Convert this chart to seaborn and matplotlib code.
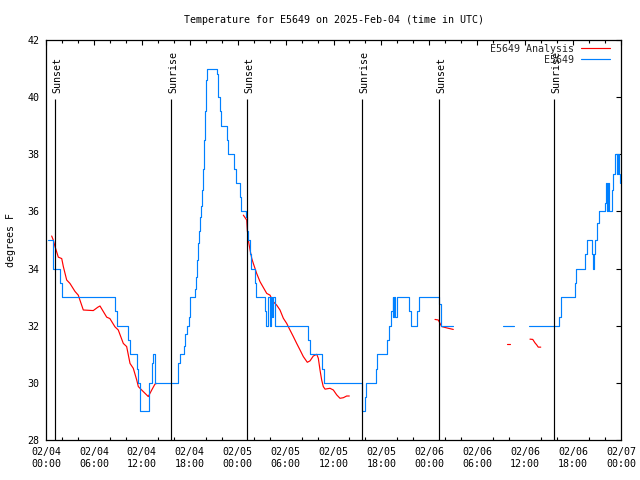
import matplotlib
matplotlib.use("Agg")
import matplotlib.pyplot as plt
import seaborn as sns
import pandas as pd
from matplotlib.lines import Line2D
from matplotlib.ticker import MultipleLocator

# ---------------- data (hours since 2025-02-04 00:00 UTC) ----------------
title = "Temperature for E5649 on 2025-Feb-04 (time in UTC)"
y_label = "degrees F"
obs_name = "E5649"
ana_name = "E5649 Analysis"

x_tick_hours = [0, 6, 12, 18, 24, 30, 36, 42, 48, 54, 60, 66, 72]
x_tick_labels = ["02/04\n00:00", "02/04\n06:00", "02/04\n12:00", "02/04\n18:00",
                 "02/05\n00:00", "02/05\n06:00", "02/05\n12:00", "02/05\n18:00",
                 "02/06\n00:00", "02/06\n06:00", "02/06\n12:00", "02/06\n18:00",
                 "02/07\n00:00"]
y_ticks = [28, 30, 32, 34, 36, 38, 40, 42]

sun_hours = [1.17, 15.69, 25.2, 39.62, 49.25, 63.64]
sun_labels = ["Sunset", "Sunrise", "Sunset", "Sunrise", "Sunset", "Sunrise"]

# observed station temperature (step series), three pieces
obs_h1 = [0.3, 0.92, 1.75, 2.0, 8.7, 8.85, 10.3, 10.5, 11.35, 11.5, 11.8, 12.85, 13.25,
          13.45, 13.6, 16.55, 16.8, 17.3, 17.45, 17.6, 17.85, 17.97, 18.07, 18.62, 18.74,
          18.87, 18.99, 19.12, 19.24, 19.37, 19.5, 19.62, 19.74, 19.87, 19.99, 20.12,
          21.37, 21.5, 21.85, 21.97, 22.63, 22.75, 23.6, 23.75, 24.3, 24.45, 25.05, 25.2,
          25.3, 25.55, 25.67, 26.17, 26.3, 27.42, 27.55, 27.84, 28.0, 28.15, 28.25, 28.38,
          28.62, 28.72, 32.85, 33.0, 34.6, 34.85, 39.62, 39.95, 40.12, 41.3, 41.5, 42.7,
          42.95, 43.25, 43.4, 43.5, 43.6, 43.75, 43.95, 45.5, 45.7, 46.5, 46.7, 49.25,
          49.4, 51.0]
obs_t1 = [35.0, 34.0, 33.5, 33.0, 32.5, 32.0, 31.5, 31.0, 30.5, 30.0, 29.0, 30.0, 30.7,
          31.0, 30.0, 30.7, 31.0, 31.3, 31.7, 32.0, 32.3, 32.6, 33.0, 33.3, 33.7,
          34.3, 34.9, 35.3, 35.8, 36.2, 36.75, 37.5, 38.5, 39.5, 40.6, 41.0,
          40.8, 40.0, 39.5, 39.0, 38.5, 38.0, 37.5, 37.0, 36.5, 36.0, 35.8, 35.3,
          35.0, 34.5, 34.0, 33.5, 33.0, 32.5, 32.0, 33.0, 32.0, 33.0, 32.3, 33.0,
          32.5, 32.0, 31.5, 31.0, 30.5, 30.0, 29.0, 29.5, 30.0, 30.5, 31.0, 31.5,
          32.0, 32.5, 33.0, 32.3, 33.0, 32.3, 33.0, 32.5, 32.0, 32.5, 33.0, 32.75,
          32.0, 32.0]
obs_h2 = [57.2, 58.6]
obs_t2 = [32.0, 32.0]
obs_h3 = [60.5, 64.28, 64.5, 66.24, 66.4, 67.55, 67.7, 68.33, 68.5, 68.62, 68.75, 68.95,
          69.25, 70.0, 70.1, 70.25, 70.4, 70.55, 70.9, 71.05, 71.2, 71.55, 71.68, 71.8,
          71.9, 71.92]
obs_t3 = [32.0, 32.3, 33.0, 33.5, 34.0, 34.5, 35.0, 34.5, 34.0, 34.5, 35.0, 35.6,
          36.0, 36.3, 37.0, 36.0, 37.0, 36.0, 36.75, 37.3, 38.0, 37.3, 38.0, 37.3,
          37.0, 37.0]

# analysis temperature (line series), five pieces
ana_h1 = [0.71, 0.91, 1.13, 1.54, 1.97, 2.17, 2.59, 3.0, 3.63, 4.04, 4.67, 5.92, 6.5,
          6.76, 7.6, 8.0, 8.64, 9.05, 9.68, 10.1, 10.52, 10.93, 11.36, 11.56, 11.98,
          12.81, 13.24, 13.65, 13.86]
ana_t1 = [35.14, 35.0, 34.77, 34.4, 34.35, 34.07, 33.6, 33.48, 33.2, 33.07, 32.55, 32.53,
          32.65, 32.69, 32.3, 32.25, 31.96, 31.85, 31.38, 31.27, 30.68, 30.51, 30.1, 29.87,
          29.75, 29.52, 29.75, 29.96, 29.98]
ana_h2 = [24.71, 25.13, 25.21, 25.33, 25.55, 25.76, 25.96, 26.38, 26.8, 27.21, 27.64,
          28.05, 28.46, 28.89, 29.3, 29.72, 30.14, 30.55, 30.97, 31.39, 31.81, 32.22,
          32.72, 33.06, 33.47, 33.9, 34.1, 34.31, 34.52, 34.72, 34.94, 35.56, 35.98,
          36.4, 36.81, 37.23, 37.65, 37.98]
ana_t2 = [35.87, 35.7, 35.35, 35.0, 34.65, 34.36, 34.18, 33.83, 33.54, 33.34, 33.13,
          33.07, 32.84, 32.72, 32.55, 32.26, 32.08, 31.85, 31.62, 31.38, 31.15, 30.92,
          30.72, 30.77, 30.94, 31.0, 30.86, 30.45, 30.1, 29.87, 29.78, 29.81, 29.75,
          29.58, 29.46, 29.48, 29.54, 29.54]
ana_h3 = [48.71, 49.12, 49.34, 49.55, 49.96, 50.38, 51.0]
ana_t3 = [32.22, 32.2, 32.08, 31.97, 31.94, 31.91, 31.87]
ana_h4 = [57.77, 58.1]
ana_t4 = [31.35, 31.35]
ana_h5 = [60.6, 60.95, 61.23, 61.44, 61.64, 61.95]
ana_t5 = [31.53, 31.52, 31.4, 31.33, 31.25, 31.25]


def pieces(*pairs):
    frames = []
    for i, (h, t) in enumerate(pairs):
        frames.append(pd.DataFrame({"hour": h, "temp": t, "seg": i}))
    return pd.concat(frames, ignore_index=True)


obs_df = pieces((obs_h1, obs_t1), (obs_h2, obs_t2), (obs_h3, obs_t3))
ana_df = pieces((ana_h1, ana_t1), (ana_h2, ana_t2), (ana_h3, ana_t3),
                (ana_h4, ana_t4), (ana_h5, ana_t5))

# ---------------- styling ----------------
RED = "#ff0000"
BLUE = "#0080ff"
FS = 7.2
LW = 0.85

sns.set_theme(style="white")
plt.rcParams["font.family"] = ["DejaVu Sans Mono", "DejaVu Sans"]
plt.rcParams["font.size"] = FS

fig = plt.figure(figsize=(6.4, 4.8), dpi=100)
ax = fig.add_axes([46 / 640, 40 / 480, 575 / 640, 400 / 480])

sns.lineplot(data=ana_df, x="hour", y="temp", units="seg", estimator=None,
             color=RED, lw=LW, ax=ax, legend=False, zorder=3)
sns.lineplot(data=obs_df, x="hour", y="temp", units="seg", estimator=None,
             color=BLUE, lw=LW, drawstyle="steps-post", ax=ax, legend=False, zorder=4)

ax.vlines(sun_hours, 28, 39.92, color="black", lw=LW, zorder=5)
for h, lab in zip(sun_hours, sun_labels):
    ax.text(h + 0.3, 40.15, lab, rotation=90, ha="center", va="bottom",
            fontsize=FS, color="black", zorder=6)

ax.set_xlim(0, 72)
ax.set_ylim(28, 42)
ax.set_xticks(x_tick_hours)
ax.set_xticklabels(x_tick_labels)
ax.xaxis.set_minor_locator(MultipleLocator(2))
ax.set_yticks(y_ticks)
ax.set_yticklabels([str(v) for v in y_ticks])
ax.tick_params(axis="both", which="major", direction="in", length=3.6, width=0.8,
               top=True, right=True, labelsize=FS, color="black", labelcolor="black")
ax.tick_params(axis="x", which="major", pad=5)
ax.tick_params(axis="y", which="major", pad=4.8)
ax.tick_params(axis="x", which="minor", direction="in", length=1.9, width=0.8,
               top=True, bottom=True, color="black")
for s in ax.spines.values():
    s.set_color("black")
    s.set_linewidth(0.9)

ax.set_xlabel("")
ax.set_ylabel(y_label, fontsize=FS, color="black")
ax.yaxis.set_label_coords(-0.053, 0.5)
ax.set_title(title, fontsize=FS, pad=12, color="black")

handles = [Line2D([], [], color=RED, lw=LW), Line2D([], [], color=BLUE, lw=LW)]
leg = ax.legend(handles, [ana_name, obs_name], loc="upper right",
                bbox_to_anchor=((610 - 46) / 575, (440 - 44) / 400),
                frameon=False, markerfirst=False, fontsize=FS,
                handlelength=2.9, handletextpad=0.67, labelspacing=0.1,
                borderpad=0, borderaxespad=0)
leg.set_zorder(7)

fig.savefig("out.png", dpi=100)
